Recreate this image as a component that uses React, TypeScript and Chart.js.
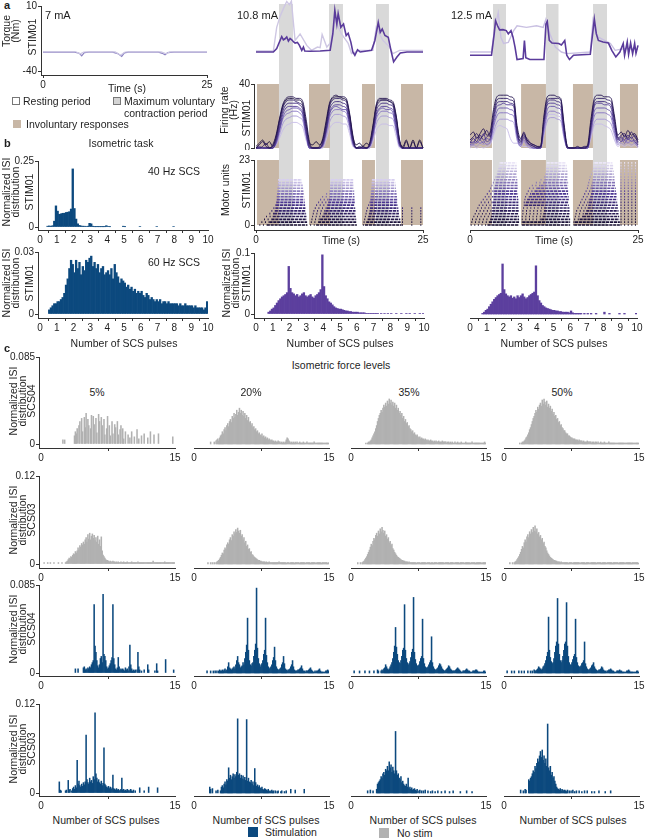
import React, { useEffect, useRef } from 'react';
import { Chart, registerables } from 'chart.js';

Chart.register(...registerables);
const FONT = "'Liberation Sans', Arial, Helvetica, sans-serif";
Chart.defaults.font.family = FONT;
Chart.defaults.font.size = 10;
Chart.defaults.color = '#1e1e1e';

const AX = '#333333';
const BLUE = '#0c497e';
const GREY = '#b1b1b1';
const PURPLE = '#5c3f9e';
const BROWN = '#c8b7a6';
const MVC = '#d9d9d9';

// ---------------- Panel a data ----------------
const TIME_TICKS = [0, 25];
const TORQUE_TICKS = [-40, 10];
const FR_TICKS = [0, 40];
const MU_TICKS = [0, 23];

const TORQUE_7_DARK = [[0,-25.5],[4.8,-25.5],[5.5,-26.3],[5.9,-28.3],[6.3,-25.9],[7,-25.5],[10.6,-25.5],[11.4,-26.6],[12,-28.8],[12.4,-26],[13,-25.5],[17.6,-25.5],[18.2,-26.4],[18.6,-27.6],[19,-25.8],[20,-25.5],[25,-25.5]];
const TORQUE_7_LIGHT = [[0,-25.2],[5,-25.2],[5.7,-26.8],[6.2,-25.4],[11,-25.3],[11.8,-27.8],[12.5,-25.4],[18,-25.3],[18.8,-26.8],[19.3,-25.3],[25,-25.3]];

const TORQUE_108_DARK = [[0,-25.4],[2.6,-25.4],[3.1,-22.8],[3.6,-16.5],[3.85,-13.5],[4.1,-16],[4.35,-15.2],[4.6,-13.8],[4.85,-17],[5.1,-15],[5.35,-16],[5.6,-17.5],[5.85,-18.5],[6.2,-18],[6.5,-20.3],[6.85,-24.1],[7.1,-21.6],[7.3,-24.6],[8,-24.8],[9.6,-24.6],[11.1,-24.1],[11.5,-11.5],[11.8,6.7],[12.1,-3.9],[12.3,4.2],[12.7,-6.4],[13.1,-3.9],[13.5,-12.7],[13.8,-11],[14.2,-17.8],[14.5,-25.4],[14.8,-27.9],[15.2,-23.6],[15.6,-25.4],[17.3,-24.1],[17.8,-16.5],[18.3,-2.6],[18.6,-10.2],[18.9,-7.7],[19.3,-12.7],[19.8,-14],[20.2,-24.1],[20.6,-33],[21.1,-29.2],[21.6,-26.1],[22.6,-25.4],[25,-25.4]];
const TORQUE_108_LIGHT = [[0,-24.6],[2.6,-24.6],[3.1,-6.4],[3.6,2],[4.1,8],[4.6,13.5],[5.0,11],[5.3,13.8],[5.85,-16.5],[6.6,-11.5],[7.6,-20.3],[8.3,-24.1],[9.2,-21.6],[9.6,-22],[9.9,-12],[10.6,-21.6],[11.2,-18],[11.8,-0.5],[12.8,-11.5],[13.8,-18.8],[14.3,-26.6],[15.5,-24.1],[17.5,-24.1],[18.0,-6.4],[19.0,-16.5],[20.0,-21.6],[20.5,-26.6],[21.5,-24.1],[25,-24.1]];

const TORQUE_125_DARK = [[0,-27.9],[3.2,-27.9],[3.6,-11.5],[3.8,-1.4],[4.1,-5.2],[4.4,-8.4],[4.9,-8.2],[5.4,-8.9],[5.7,-11.5],[6.1,-8.9],[6.4,-14],[6.7,-21.6],[7.0,-31.2],[7.9,-30.5],[8.1,-16.5],[8.3,-29.7],[8.9,-31.2],[11.0,-31.2],[11.3,-3.9],[11.5,-1.9],[11.8,-16.5],[12.2,-18.5],[13.2,-18.8],[13.6,-20],[14.1,-16.5],[14.4,-27.9],[14.8,-31.2],[15.4,-27.9],[17.9,-27.2],[18.3,-8.9],[18.5,-0.1],[18.8,-11.5],[19.1,-16.5],[19.8,-17.7],[20.6,-18.5],[21.1,-24.1],[21.7,-29.2],[22.3,-25.4],[22.8,-18.8],[23.0,-27.9],[23.4,-17.7],[23.6,-27.2],[23.9,-18.5],[24.2,-26.8],[24.5,-18.8],[24.7,-26.4],[25.0,-20.3]];
const TORQUE_125_LIGHT = [[0,-25.4],[3.2,-25.4],[3.7,-6.4],[4.2,4.9],[4.6,-14],[5.0,-18.8],[5.7,-18],[6.5,-8.9],[7.0,-5.2],[8.4,-6.4],[9.9,-5.2],[10.9,-6.4],[11.3,-0.1],[11.9,-11.5],[12.7,-21.6],[13.6,-25.4],[14.4,-26.6],[17.9,-25.4],[18.3,-1.4],[18.6,-8.9],[19.1,-14],[20.9,-18.8],[21.6,-24.1],[22.3,-23.4],[23.3,-22.6],[25,-23.4]];

const MID_MVC = [[3.44,5.54],[10.93,13.02],[17.96,19.9]];
const MID_INVOL = [[0.15,3.44],[7.93,11.08],[15.87,17.81],[21.7,25]];
const RIGHT_MVC = [[3.42,5.36],[11.3,13.2],[18.3,20.4]];
const RIGHT_INVOL = [[0,3.27],[7.6,11.3],[15.3,18.3],[22.3,25]];

const T_FR = [0,0.5,1,1.5,2,2.5,3,3.5,4,4.5,5,5.5,6,6.5,7,7.5,8,8.5,9,9.5,10,10.5,11,11.5,12,12.5,13,13.5,14,14.5,15,15.5,16,16.5,17,17.5,18,18.5,19,19.5,20,20.5,21,21.5,22,22.5,23,23.5,24,24.5,25];
const FR_MID = [
  [0,2,4,1,0,2,8,18,27,31,32,32,31,31,29,18,4,0,0,1,6,17,28,32,33,32,32,31,22,8,0,0,1,0,3,14,27,31,31,31,30,29,20,5,0,4,0,4,0,4,0],
  [0,0,1,3,0,1,6,16,25,29,30,30,29,28,26,14,2,0,0,0,4,14,26,30,31,31,30,29,20,6,0,1,0,0,2,12,25,29,30,30,29,27,18,4,0,0,0,0,0,0,0],
  [0,0,0,0,0,0,5,14,23,27,28,28,28,27,24,12,1,0,0,0,3,12,24,28,29,29,28,27,18,5,0,0,0,0,2,10,23,27,28,28,27,26,16,3,0,0,0,0,0,0,0],
  [0,1,0,0,0,0,4,12,21,25,26,26,26,25,22,10,0,0,0,0,2,11,22,26,27,27,26,25,16,4,0,0,0,0,1,9,21,25,26,26,25,24,14,2,0,0,0,0,0,0,0],
  [0,0,0,0,0,0,3,11,19,23,24,25,25,24,21,9,0,0,0,0,2,10,21,25,26,25,24,24,15,3,0,0,0,0,1,8,20,24,25,24,24,22,12,2,0,0,0,0,0,0,0],
  [0,0,0,0,0,0,3,10,18,21,22,23,23,22,19,8,0,0,0,0,1,9,19,23,24,24,23,22,14,3,0,0,0,0,1,7,18,22,23,23,22,21,11,1,0,0,0,0,0,0,0],
  [0,0,0,0,0,0,2,8,15,18,19,20,20,19,17,7,0,0,0,0,1,7,16,20,21,21,20,19,12,2,0,0,0,0,0,6,15,19,20,20,19,18,10,1,0,0,0,0,0,0,0],
  [0,0,0,0,0,0,2,6,11,14,15,16,16,15,13,5,0,0,0,0,0,5,12,15,16,16,15,15,9,1,0,0,0,0,0,4,11,14,15,15,14,14,7,0,0,0,0,0,0,0,0],
  [1,3,5,2,4,1,7,17,26,30,31,31,30,30,27,15,3,2,4,2,5,15,27,31,32,32,31,30,21,7,2,3,1,3,2,13,26,30,30,30,29,28,19,4,1,5,0,5,0,5,0],
];
const FR_RIGHT = [
  [8,10,6,9,12,8,10,24,32,33,33,33,32,31,14,6,9,5,3,2,1,1,20,32,33,33,32,31,15,1,0,0,1,0,0,2,18,31,33,33,32,32,31,20,8,10,7,11,8,9,5],
  [5,7,9,6,8,11,7,21,30,31,31,31,30,29,12,4,10,4,2,1,0,1,18,30,31,31,31,30,13,0,0,0,0,0,1,1,16,29,31,31,31,30,29,18,6,8,9,6,10,7,4],
  [3,6,4,8,5,7,9,19,28,29,29,29,28,27,10,3,7,6,3,2,1,0,16,28,30,30,29,28,12,1,0,0,0,0,0,1,14,27,29,29,29,28,27,16,5,7,5,8,6,8,3],
  [4,3,7,5,9,4,6,17,26,27,28,27,27,26,9,5,8,3,2,1,0,0,15,27,28,28,27,26,10,0,0,0,0,0,0,0,13,26,28,28,27,27,25,14,7,4,8,5,7,4,2],
  [2,4,3,5,3,6,5,15,23,25,25,25,24,23,8,2,6,4,1,0,0,0,13,24,26,26,25,24,9,0,0,0,0,0,0,0,11,23,25,25,25,24,22,12,4,6,3,6,4,5,2],
  [2,2,4,3,4,2,4,13,20,22,22,22,21,20,7,1,5,2,1,0,0,0,11,21,23,23,22,21,8,0,0,0,0,0,0,0,10,20,22,22,22,21,19,10,3,4,5,3,5,3,1],
  [1,2,1,3,2,3,3,10,16,18,18,18,17,16,5,1,4,1,0,0,0,0,9,17,19,19,18,17,6,0,0,0,0,0,0,0,8,16,18,18,18,17,15,8,2,3,2,4,2,3,1],
  [0,1,0,1,0,1,2,8,13,14,13,12,6,3,3,2,1,1,0,0,0,0,8,20,21,21,20,19,7,0,0,0,0,0,0,0,6,14,15,15,14,13,11,5,1,2,1,2,1,2,0],
];
const FR_COLORS = ['#23134f','#2f1d66','#3f2a7e','#523c96','#6752ad','#8472c2','#a596d6','#c6bbe8','#180d3a'];

// motor unit rows: [sparse start, dense start, end] x 3 contractions
const MID_RASTER = [
  [0.5,1.6,7.7, 8.1,9.0,15.1, 16.0,16.3,21.8],
  [0.8,2.0,7.65, 8.2,9.3,15.0, 16.1,16.5,21.7],
  [1.2,2.3,7.6, 8.3,9.6,15.0, 16.2,16.7,21.6],
  [1.5,2.5,7.55, 8.4,9.9,14.95, 16.3,16.8,21.5],
  [2.0,2.7,7.5, 8.5,10.2,14.9, 16.4,16.9,21.4],
  [2.3,2.8,7.45, 8.6,10.4,14.9, 16.5,17.0,21.35],
  [2.6,2.9,7.4, 8.8,10.6,14.85, 16.6,17.05,21.3],
  [2.9,3.0,7.35, 9.0,10.7,14.8, 16.8,17.1,21.25],
  [3.0,3.05,7.3, 9.3,10.8,14.8, 17.0,17.1,21.2],
  [3.1,3.1,7.25, 9.6,10.9,14.75, 17.1,17.15,21.15],
  [3.1,3.1,7.2, 9.9,11.0,14.75, 17.15,17.2,21.1],
  [3.15,3.15,7.15, 10.5,11.0,14.7, 17.2,17.2,21.05],
  [3.2,3.2,7.1, 11.0,11.05,14.7, 17.2,17.25,21.0],
  [3.2,3.2,7.05, 11.1,11.1,14.65, 17.25,17.25,20.95],
  [3.25,3.25,7.0, 11.1,11.1,14.65, 17.3,17.3,20.9],
  [3.3,3.3,6.9, 11.15,11.15,14.6, 17.3,17.3,20.85],
  [3.3,3.3,6.85, 11.2,11.2,14.55, 17.35,17.35,20.8],
];
const MID_TAIL = [[21.85,22.05],[23.25,23.45],[24.6,24.8]];
const MID_TAIL_UNITS = 7;
const RIGHT_RASTER = [
  [0.1,2.6,7.3, 7.7,7.7,14.9, 15.4,15.5,22.3],
  [0.2,2.8,7.3, 7.7,7.8,14.9, 15.4,15.6,22.3],
  [0.3,3.0,7.3, 7.7,10.6,14.9, 15.5,16.3,22.2],
  [0.5,3.1,7.3, 7.7,10.8,14.8, 15.6,16.8,22.2],
  [0.7,3.2,7.25, 7.8,10.9,14.8, 15.7,17.1,22.1],
  [0.9,3.3,7.25, 7.8,11.0,14.8, 15.8,17.3,22.1],
  [1.1,3.3,7.2, 7.9,11.0,14.8, 16.0,17.5,22.0],
  [1.3,3.4,7.2, 8.0,8.2,14.7, 16.2,17.6,22.0],
  [1.6,3.4,7.2, 8.0,8.3,14.7, 16.4,17.7,21.9],
  [1.9,3.5,7.2, 8.1,8.5,14.7, 16.6,17.8,21.9],
  [2.2,3.5,7.15, 8.2,8.8,14.7, 16.8,17.9,21.8],
  [2.5,3.6,7.15, 8.4,9.2,14.6, 17.0,18.0,21.8],
  [2.8,3.6,7.1, 8.6,9.6,14.6, 17.2,18.1,21.7],
  [3.0,3.7,7.1, 8.8,10.0,14.6, 17.4,18.1,21.7],
  [3.2,3.7,7.1, 9.2,10.5,14.6, 17.5,18.2,21.6],
  [3.4,3.8,7.05, 9.8,11.0,14.6, 17.6,18.2,21.6],
  [3.6,3.9,7.05, 10.5,11.1,14.5, 17.7,18.3,21.5],
  [3.8,4.0,7.0, 11.0,11.2,14.5, 17.8,18.3,21.5],
  [4.0,4.1,7.0, 11.2,11.2,14.5, 18.0,18.4,21.4],
  [4.1,4.2,7.0, 11.3,11.3,14.5, 18.2,18.4,21.4],
  [4.2,4.3,6.95, 11.3,11.3,14.4, 18.3,18.5,21.3],
  [4.3,4.4,6.95, 11.4,11.4,14.4, 18.4,18.5,21.3],
  [4.4,4.5,6.9, 11.4,11.4,14.3, 18.4,18.6,21.2],
];
const RIGHT_TAIL = [[22.4,25]];

// ---------------- Panel b data (bins of 0.1 pulse, values x 0.001) ----------------
const B_X_TICKS = [0,1,2,3,4,5,6,7,8,9,10];
const B_40HZ = [
  0,0,0,0,3,4,3,5,22,80,
  60,48,50,52,52,55,56,58,68,220,
  70,30,12,6,4,3,3,2,3,14,
  12,3,1,1,1,1,1,1,1,5,
  2,1,0,0,0,0,0,0,0,3,
  1,0,0,0,0,0,0,0,0,2,
  0,0,0,0,0,0,0,0,0,2,
  0,0,0,0,0,0,0,0,0,2,
  0,0,0,0,0,0,0,0,0,0,
  0,0,0,0,0,0,0,0,0,0,
];
const B_60HZ = [
  0,0,0,0,0,2,3,4,5,5,
  6,6,7,8,10,14,17,22,26,24,
  20,26,22,25,19,23,21,26,25,27,
  28,23,25,22,24,20,22,23,19,20,
  21,19,22,17,24,20,18,15,17,16,
  15,13,14,12,13,11,12,10,11,10,
  11,9,8,10,9,7,8,7,6,7,
  6,7,5,6,6,5,6,5,5,5,
  5,5,4,5,4,4,5,4,4,4,
  4,3,4,3,3,3,3,2,3,6,
];
const B_108MA = [
  0,0,0,0,0,0,0,3,5,8,
  10,14,18,22,25,28,30,32,35,78,
  42,35,33,30,32,28,30,33,35,30,
  28,30,32,28,26,30,32,35,40,97,
  45,30,25,20,18,15,12,10,9,8,
  8,7,6,5,5,4,4,3,3,3,
  3,2,2,2,2,1,1,1,1,1,
  1,1,1,0,1,0,1,0,1,0,
  1,0,0,1,0,0,1,0,0,1,
  0,1,0,0,1,0,0,1,0,1,
];
const B_125MA = [
  0,0,0,0,0,0,0,1,3,6,
  8,12,16,20,24,27,30,32,34,82,
  40,33,30,28,30,26,28,25,30,27,
  30,33,28,25,27,30,32,34,36,79,
  30,22,18,14,12,10,9,8,7,6,
  6,5,5,4,4,3,3,3,3,2,
  5,2,1,1,1,1,1,0,1,0,
  1,0,1,0,0,1,0,0,0,0,
  3,0,0,1,0,0,0,0,0,1,
  0,0,1,0,0,0,0,0,0,1,
];

// ---------------- Panel c data (bins of 0.1 pulse, values x 0.001) ----------------
const C_X_TICKS = [0, 15];
const FORCE_LEVELS = ['5%', '20%', '35%', '50%'];
const C_NOSTIM_SCS04 = [
  [0,0,0,0,0,0,0,0,0,0, 0,0,0,0,0,0,0,0,0,0, 0,0,0,0,4,0,4,0,0,0, 0,0,0,0,0,0,0,8,12,10,
   15,0,18,22,0,25,12,0,26,16, 30,0,24,18,0,15,28,0,27,19, 0,25,11,0,29,22,0,26,18,0, 24,9,0,15,27,0,18,8,0,22,
   10,0,19,16,0,22,9,0,14,18, 0,15,5,0,12,0,0,9,0,6, 0,12,0,0,7,0,0,14,0,5, 0,0,8,0,0,10,0,0,0,6,
   0,0,12,0,0,0,9,0,0,0, 0,10,0,0,0,0,0,0,0,0, 0,0,0,0,0,0,0,7,0,0],
  [0,0,0,0,0,0,0,0,0,0, 0,0,0,0,0,0,0,0,2,0, 0,0,2,0,3,4,5,3,6,8, 9,12,10,14,16,13,18,20,17,22,
   24,21,27,25,30,26,29,33,28,31, 35,30,33,28,32,27,30,25,28,23, 26,21,22,18,20,16,17,14,15,12, 13,10,11,9,8,10,7,8,6,7,
   5,6,4,5,4,3,4,3,3,2, 3,2,2,3,2,2,1,2,1,2, 1,2,4,6,5,3,2,1,2,1, 2,1,2,1,2,1,1,2,1,1,
   1,2,1,1,1,2,1,1,1,1, 1,1,1,2,1,1,1,1,1,1, 1,1,1,1,1,1,1,1,1,1],
  [0,0,0,0,0,0,0,0,0,0, 0,0,0,0,0,0,1,0,1,2, 2,3,4,6,8,10,12,15,18,22, 25,28,30,33,31,35,38,36,40,37,
   42,39,44,40,43,38,41,37,40,35, 38,33,35,30,32,28,30,25,27,22, 24,20,21,17,18,15,14,12,13,10, 11,9,8,9,7,6,7,5,6,5,
   5,4,5,4,3,4,3,3,4,3, 3,2,3,2,3,2,2,3,2,2, 2,3,2,2,2,2,1,2,2,1, 2,1,2,1,1,2,1,1,2,1,
   1,1,2,1,1,1,1,2,1,1, 1,1,1,1,2,1,1,1,1,1, 1,1,1,1,1,1,1,1,2,1],
  [0,0,0,0,0,0,0,0,0,0, 0,0,0,0,0,0,0,1,0,1, 2,2,3,4,6,7,9,11,14,16, 19,22,25,27,30,33,31,36,34,38,
   40,37,43,39,44,41,38,42,36,39, 35,37,32,34,29,31,27,28,24,25, 21,22,18,19,16,15,13,13,11,10, 10,8,8,7,6,6,5,5,5,4,
   4,4,3,4,3,3,3,2,3,2, 2,2,3,2,2,2,2,1,2,2, 1,2,2,1,2,1,1,2,1,1, 1,2,1,1,1,1,2,1,1,1,
   1,1,1,1,1,1,1,1,1,1, 1,1,1,1,1,1,1,1,1,1, 1,1,1,1,1,1,1,1,1,1],
];
const C_NOSTIM_SCS03 = [
  [0,0,0,2,0,0,0,2,0,0, 2,0,0,0,2,0,0,0,0,2, 0,0,0,2,0,0,0,2,3,4, 6,8,7,10,9,12,14,13,17,15,
   18,22,19,25,23,28,26,30,27,33, 36,30,40,34,42,33,38,41,35,39, 32,36,30,38,27,33,24,37,18,12, 10,8,6,5,5,4,3,4,3,3,
   4,3,3,2,3,2,3,2,2,3, 2,2,3,2,2,2,3,2,2,2, 2,3,2,2,2,2,2,2,3,2, 2,2,2,2,2,2,2,2,2,2,
   2,2,2,2,2,4,2,2,2,2, 2,2,2,2,2,2,2,2,3,2, 2,2,2,2,2,2,2,2,2,2],
  [0,0,0,0,0,0,0,0,0,0, 0,0,0,0,0,2,0,0,2,0, 2,0,2,0,2,3,4,5,7,9, 12,15,14,19,22,20,26,29,27,33,
   36,32,40,38,44,41,47,43,49,45, 42,46,38,40,33,36,29,31,24,26, 20,21,16,17,13,12,10,9,8,7, 6,5,5,4,4,3,3,3,3,2,
   3,2,2,3,2,2,2,2,2,2, 2,2,2,2,3,2,2,2,2,2, 2,2,1,2,2,2,1,2,2,2, 2,1,2,2,2,2,2,1,2,2,
   2,2,2,1,2,2,2,2,2,1, 2,2,2,2,2,1,2,2,2,2, 2,1,2,2,2,2,2,2,1,2],
  [0,0,0,0,0,0,0,2,0,0, 2,0,2,3,4,6,8,10,13,16, 19,23,27,25,31,35,33,39,42,38, 45,41,48,44,50,46,42,45,38,40,
   34,36,29,31,25,27,21,19,16,14, 12,10,9,8,7,6,5,5,4,4, 3,3,3,2,3,2,2,2,2,2, 2,2,1,2,2,2,2,1,2,2,
   2,2,2,1,2,2,2,2,1,2, 2,1,2,2,2,2,1,2,2,2, 2,2,2,1,2,2,2,2,2,1, 2,2,2,2,1,2,2,2,2,2,
   1,2,2,2,2,2,1,2,2,2, 2,2,1,2,2,2,2,2,1,2, 2,2,2,2,2,1,2,2,2,2],
  [0,0,0,0,0,0,2,0,0,2, 0,2,3,4,6,8,10,13,16,20, 24,22,29,33,30,37,40,36,44,41, 47,43,50,45,52,44,48,41,43,37,
   39,33,35,28,30,24,22,18,15,13, 11,9,8,7,6,5,5,4,4,3, 3,3,2,3,2,2,2,2,2,2, 2,1,2,2,2,2,1,2,2,2,
   2,2,2,2,1,2,2,2,2,2, 1,2,2,2,2,1,2,2,2,2, 2,2,1,2,2,2,2,2,1,2, 2,2,2,1,2,2,2,2,2,2,
   1,2,2,2,2,2,2,1,2,2, 2,2,2,2,1,2,2,2,2,2, 2,1,2,2,2,2,2,2,2,1],
];
const C_STIM_SCS04 = [
  [0,0,0,0,0,0,0,0,0,0, 0,0,0,0,0,0,0,0,0,0, 0,0,0,0,0,0,0,0,0,0, 0,0,0,0,0,0,0,0,4,0,
   0,4,0,0,0,0,0,5,6,3, 4,3,5,4,6,5,8,10,12,66, 26,20,12,7,5,8,14,16,10,76, 18,16,12,6,4,5,7,9,12,15,
   66,14,8,4,3,5,15,6,3,4, 3,4,3,2,5,3,4,2,6,27, 8,4,2,3,2,3,0,3,20,6, 3,0,2,0,0,3,0,0,0,8,
   3,0,0,0,0,0,0,2,0,9, 2,0,0,0,0,0,0,0,0,13, 0,0,0,0,0,0,0,0,3,0],
  [0,0,0,0,0,0,0,0,0,0, 0,0,0,0,2,0,0,0,2,0, 0,2,0,2,0,2,0,2,3,2, 2,3,2,3,4,2,3,6,10,5,
   4,3,4,5,6,4,8,12,16,10, 8,5,6,7,10,8,14,20,27,53, 22,12,8,7,9,10,16,22,28,82, 24,14,9,6,8,9,12,18,22,53,
   17,10,6,4,5,6,8,12,15,25, 12,6,4,3,3,4,5,8,10,16, 9,4,3,2,3,3,4,6,8,12, 6,3,2,2,2,3,3,4,5,7,
   4,2,2,1,2,2,2,3,4,5, 3,2,1,1,2,1,2,2,3,4, 2,1,1,1,1,1,2,2,3,2],
  [0,0,0,2,0,0,0,0,0,2, 0,0,0,0,0,2,0,0,0,0, 2,0,0,0,0,2,0,0,0,3, 2,0,0,2,3,2,4,5,8,6,
   4,3,4,6,8,10,14,20,26,44, 25,18,12,10,9,12,16,22,24,66, 22,14,10,8,9,11,15,20,23,73, 20,13,9,7,7,8,11,14,16,52,
   14,9,6,5,5,6,8,10,12,35, 10,6,4,3,3,4,5,7,9,8, 6,4,3,2,2,3,4,5,7,6, 4,3,2,2,2,2,3,4,5,4,
   3,2,1,1,2,2,2,3,4,3, 2,2,1,1,1,2,2,2,3,3, 2,1,1,1,1,1,1,2,2,1],
  [0,0,0,2,0,0,0,0,2,0, 0,2,0,0,0,0,2,0,0,2, 0,0,2,0,0,0,2,0,0,2, 0,2,0,3,2,2,3,4,6,5,
   4,3,4,6,7,9,12,16,20,54, 22,15,11,9,10,14,20,26,30,72, 28,18,12,10,12,16,22,28,30,68, 26,16,10,8,8,10,13,16,18,52,
   15,10,7,6,6,7,9,10,12,30, 9,6,4,3,3,4,5,7,8,10, 6,4,3,2,2,3,3,4,6,5, 3,2,2,1,2,2,3,3,4,3,
   2,2,1,1,1,2,2,2,3,2, 2,1,1,1,1,1,2,2,3,2, 1,1,1,1,1,1,1,2,2,1],
];
const C_STIM_SCS03 = [
  [0,0,0,0,0,0,0,0,0,0, 0,0,0,0,0,0,0,0,0,0, 15,4,3,0,0,0,0,3,4,0, 17,4,5,0,3,6,8,5,10,7,
   44,12,16,10,8,12,9,14,11,15, 78,18,14,12,20,15,17,13,22,18, 108,26,20,15,18,14,12,16,10,13, 61,12,10,8,7,9,6,8,5,7,
   24,6,5,4,6,4,5,3,4,5, 20,4,5,3,4,3,5,3,4,2, 5,3,2,4,0,3,0,0,0,0, 7,0,0,0,0,3,0,0,0,0,
   8,0,0,0,0,0,0,0,0,0, 7,0,0,0,0,0,0,0,0,0, 0,0,0,0,0,0,0,0,0,0],
  [0,0,0,0,0,0,0,0,0,0, 0,0,0,0,0,0,0,8,5,0, 6,0,0,0,3,0,4,0,0,3, 8,10,7,12,15,11,18,16,34,20,
   24,18,22,26,20,25,22,28,100,24, 26,20,24,19,23,18,21,17,99,16, 20,15,14,17,12,15,10,33,14,9, 11,8,10,7,6,8,5,4,6,5,
   4,3,5,3,2,3,4,2,3,0, 3,0,2,3,0,0,2,3,0,0, 2,0,3,0,0,0,0,5,0,0, 0,0,4,0,0,0,0,0,0,0,
   0,0,5,0,0,0,0,0,0,0, 0,0,0,0,0,0,0,0,0,0, 0,0,0,0,0,0,0,0,0,0],
  [0,0,0,0,0,0,0,0,0,0, 0,0,0,0,0,0,0,0,3,0, 0,4,0,0,3,0,0,0,5,12, 14,16,18,22,20,26,28,24,32,30,
   36,30,42,34,38,28,35,30,26,83, 30,24,26,20,18,22,14,16,12,10, 9,12,8,20,6,8,5,7,4,5, 6,4,3,5,0,3,4,0,3,0,
   3,0,4,0,0,3,0,0,2,0, 3,0,0,2,0,0,3,0,0,0, 2,0,0,0,3,0,0,0,0,2, 0,0,0,3,0,0,0,0,0,0,
   0,2,0,0,0,0,0,0,3,0, 0,0,0,0,2,0,0,0,0,0, 0,0,0,0,0,0,0,0,0,0],
  [0,0,0,0,0,0,0,0,0,0, 0,0,0,0,0,0,0,0,4,0, 0,3,0,5,4,0,0,18,16,20, 22,26,30,28,36,33,40,46,42,50,
   56,48,58,44,50,40,46,36,93,34, 30,36,24,28,20,22,16,12,8,6, 5,4,6,3,5,4,3,4,3,2, 4,0,3,0,3,0,4,0,2,0,
   3,0,0,3,0,0,2,0,0,3, 0,0,3,0,0,0,0,2,0,0, 2,0,0,0,0,3,0,0,0,0, 0,0,2,0,0,0,0,0,3,0,
   0,0,0,0,0,0,0,0,0,0, 0,0,0,0,0,0,0,0,0,0, 0,0,0,0,0,0,0,0,0,0],
];

// ---------------- helpers ----------------
type Ax = { ticks: number[]; fmt?: (v: number) => string; labels?: boolean };
type BoxProps = {
  x0: number; x1: number; y0: number; y1: number;
  xr: number[]; yr: number[];
  xAxis?: Ax; yAxis?: Ax;
  type?: string;
  datasets: any[];
  padL?: number; padR?: number; padT?: number; padB?: number;
};

function ChartBox(p: BoxProps) {
  const ref = useRef<HTMLCanvasElement>(null);
  const padL = p.padL ?? (p.yAxis ? 34 : 0);
  const padR = p.padR ?? 10;
  const padT = p.padT ?? 8;
  const padB = p.padB ?? (p.xAxis ? 18 : 0);
  const W = Math.round(p.x1 - p.x0 + padL + padR);
  const H = Math.round(p.y1 - p.y0 + padT + padB);
  useEffect(() => {
    const axis = (a: Ax | undefined, horiz: boolean, min: number, max: number, size: number) => ({
      type: 'linear', min, max, display: true, offset: false,
      border: { display: !!a, color: AX, width: 1 },
      grid: { display: !!a, drawOnChartArea: false, drawTicks: true, tickLength: 3, color: AX, lineWidth: 1 },
      ticks: {
        display: !!a && a.labels !== false, padding: 1, maxRotation: 0, minRotation: 0, autoSkip: false,
        font: { size: 10, family: FONT }, color: '#1e1e1e',
        callback: (v: number) => (a && a.fmt ? a.fmt(v) : String(v)),
      },
      afterBuildTicks: (s: any) => { s.ticks = (a ? a.ticks : []).map((v) => ({ value: v })); },
      afterFit: (s: any) => {
        if (horiz) s.height = size; else s.width = size;
        s.paddingLeft = 0; s.paddingRight = 0; s.paddingTop = 0; s.paddingBottom = 0;
      },
    });
    const chart = new Chart(ref.current as HTMLCanvasElement, {
      type: (p.type ?? 'line') as any,
      data: { datasets: p.datasets },
      options: {
        responsive: false, animation: false, events: [],
        layout: { padding: { left: 0, right: padR, top: padT, bottom: 0 } },
        plugins: { legend: { display: false }, tooltip: { enabled: false } },
        elements: { point: { radius: 0 } },
        scales: {
          x: axis(p.xAxis, true, p.xr[0], p.xr[1], padB) as any,
          y: axis(p.yAxis, false, p.yr[0], p.yr[1], padL) as any,
        },
      },
    } as any);
    return () => chart.destroy();
  }, []);
  return (
    <canvas ref={ref} width={W} height={H}
      style={{ position: 'absolute', left: p.x0 - padL, top: p.y0 - padT, width: W, height: H }} />
  );
}

const fmtNum = (v: number) => (v === 0 ? '0' : String(v));

function histDs(vals: number[], binW: number, color: string) {
  return {
    type: 'bar',
    data: vals.map((v, i) => ({ x: (i + 0.5) * binW, y: v ? v / 1000 : null })),
    backgroundColor: color, borderWidth: 0, barPercentage: 1, categoryPercentage: 1, grouped: false,
  };
}

// Histogram placed by pixel landmarks: px0 (x value 0), px1 (x max), top (y max), zero (y 0), axis (x-axis line)
function Hist(props: {
  vals: number[]; binW: number; color: string; xMax: number; yMax: number;
  px0: number; px1: number; top: number; zero: number; axis: number;
  yAxis: boolean; xTicks: number[];
}) {
  const { vals, binW, color, xMax, yMax, px0, px1, top, zero, axis, yAxis, xTicks } = props;
  const pxX = (px1 - px0) / xMax;
  const pxY = (zero - top) / yMax;
  const yMin = -(axis - zero) / pxY;
  const left = yAxis ? px0 - 2 : px0;
  const xMin = yAxis ? -2 / pxX : 0;
  return (
    <ChartBox type="bar" x0={left} x1={px1} y0={top} y1={axis} xr={[xMin, xMax]} yr={[yMin, yMax]}
      xAxis={{ ticks: xTicks }} yAxis={yAxis ? { ticks: [0, yMax], fmt: fmtNum } : undefined}
      padL={yAxis ? 36 : 8} padR={10} padT={8} padB={16}
      datasets={[histDs(vals, binW, color)]} />
  );
}

function blockDs(blocks: number[][], topVal: number, color: string) {
  return blocks.map(([a, b]) => ({
    type: 'line', data: [{ x: a, y: topVal }, { x: b, y: topVal }], fill: 'origin',
    backgroundColor: color, borderColor: color, borderWidth: 0, pointRadius: 0, order: 10,
  }));
}

function traceDs(pts: number[][], color: string, w: number) {
  return {
    type: 'line', data: pts.map(([t, v]) => ({ x: t, y: v })), borderColor: color, borderWidth: w,
    pointRadius: 0, fill: false, clip: false, order: 1,
  };
}

function frDs(traces: number[][]) {
  return traces.map((tr, k) => ({
    type: 'line', data: T_FR.map((t, i) => ({ x: t, y: tr[i] })), borderColor: FR_COLORS[k], borderWidth: 0.9,
    pointRadius: 0, fill: false, clip: false, cubicInterpolationMode: 'monotone', order: 1,
  }));
}

function hexToRgb(h: string) {
  return [parseInt(h.slice(1, 3), 16), parseInt(h.slice(3, 5), 16), parseInt(h.slice(5, 7), 16)];
}
function ramp(n: number, stops: string[]) {
  const cs = stops.map(hexToRgb);
  const out: string[] = [];
  for (let i = 0; i < n; i++) {
    const f = n === 1 ? 0 : i / (n - 1);
    const seg = Math.min(cs.length - 2, Math.floor(f * (cs.length - 1)));
    const lf = f * (cs.length - 1) - seg;
    const c = cs[seg].map((v, j) => Math.round(v + (cs[seg + 1][j] - v) * lf));
    out.push(`rgb(${c[0]},${c[1]},${c[2]})`);
  }
  return out;
}

function rasterDs(rows: number[][], colors: string[], lw: number, tail: number[][], tailUnits: number) {
  const out: any[] = [];
  rows.forEach((r, u) => {
    const dense: any[] = [];
    const sparse: any[] = [];
    for (let g = 0; g < 3; g++) {
      const s = r[g * 3], d = r[g * 3 + 1], e = r[g * 3 + 2];
      dense.push({ x: d, y: u }, { x: e, y: u }, { x: e, y: null });
      if (d > s) sparse.push({ x: s, y: u }, { x: d, y: u }, { x: d, y: null });
    }
    if (u < tailUnits) tail.forEach(([a, b]) => sparse.push({ x: a, y: u }, { x: b, y: u }, { x: b, y: null }));
    out.push({ type: 'line', data: dense, borderColor: colors[u], borderWidth: lw, borderDash: [3.2, 0.7], spanGaps: false, pointRadius: 0, fill: false, order: 1 });
    out.push({ type: 'line', data: sparse, borderColor: colors[u], borderWidth: lw, borderDash: [1, 2.6], spanGaps: false, pointRadius: 0, fill: false, order: 1 });
  });
  return out;
}

function T(p: { x: number; y: number; s?: number; rot?: boolean; b?: boolean; a?: string; children: any }) {
  const tr = p.rot ? 'translate(-50%,-50%) rotate(-90deg)' : p.a === 'l' ? 'translate(0,-50%)' : 'translate(-50%,-50%)';
  return (
    <div style={{ position: 'absolute', left: p.x, top: p.y, transform: tr, fontSize: p.s ?? 10.5,
      fontWeight: p.b ? 'bold' : 'normal', whiteSpace: 'nowrap', lineHeight: 1, fontFamily: FONT, color: '#1e1e1e' }}>
      {p.children}
    </div>
  );
}

function Sq(p: { x: number; y: number; w: number; h: number; c: string; border?: string }) {
  return <div style={{ position: 'absolute', left: p.x, top: p.y, width: p.w, height: p.h, background: p.c,
    boxSizing: 'border-box', border: p.border ? `1px solid ${p.border}` : 'none' }} />;
}

// ---------------- layout constants ----------------
const TQ = { y0: 6, yAxis: 75, top: 10, bot: -40, botPx: 71 };
const tqYMin = TQ.bot - (TQ.yAxis - TQ.botPx) * ((TQ.top - TQ.bot) / (TQ.botPx - TQ.y0));
const MIDX = { p0: 256, p1: 423 };
const RIGHTX = { p0: 470, p1: 638 };

const C_COLS = [[41, 175], [194, 329], [351, 486], [504, 639]];
const C_ROWS = [
  { top: 357, zero: 444, axis: 448, max: 0.085 },
  { top: 476, zero: 564, axis: 568, max: 0.12 },
  { top: 585, zero: 673, axis: 676, max: 0.085 },
  { top: 704, zero: 793, axis: 796, max: 0.12 },
];

export default function App() {
  const midColors = ramp(MID_RASTER.length, ['#140b2e', '#4b3592', '#d6ceef']);
  const rightColors = ramp(RIGHT_RASTER.length, ['#140b2e', '#4b3592', '#ebe6f7']);

  const midPxX = (MIDX.p1 - MIDX.p0) / 25;
  const leftPxX = (207 - 43) / 25;

  const rasterYMin = -(230 - 225) * (23 / (225 - 160));

  const cRowData = [C_NOSTIM_SCS04, C_NOSTIM_SCS03, C_STIM_SCS04, C_STIM_SCS03];
  const cRowColor = [GREY, GREY, BLUE, BLUE];
  const cRowName = ['SCS04', 'SCS03', 'SCS04', 'SCS03'];

  return (
    <div style={{ position: 'absolute', left: 0, top: 0, width: 645, height: 839, background: '#fff', overflow: 'hidden', fontFamily: FONT }}>
      {/* ===== Panel a: background MVC bands ===== */}
      <ChartBox x0={MIDX.p0} x1={MIDX.p1} y0={4} y1={226} xr={[0, 25]} yr={[0, 1]} padL={0} padR={0} padT={0} padB={0}
        datasets={blockDs(MID_MVC, 1, MVC)} />
      <ChartBox x0={RIGHTX.p0} x1={RIGHTX.p1} y0={4} y1={226} xr={[0, 25]} yr={[0, 1]} padL={0} padR={0} padT={0} padB={0}
        datasets={blockDs(RIGHT_MVC, 1, MVC)} />

      {/* torque 7 mA */}
      <ChartBox x0={41} x1={207} y0={TQ.y0} y1={TQ.yAxis} xr={[-2 / leftPxX, 25]} yr={[tqYMin, TQ.top]}
        xAxis={{ ticks: TIME_TICKS }} yAxis={{ ticks: TORQUE_TICKS }} padL={30} padB={16} padT={6}
        datasets={[traceDs(TORQUE_7_LIGHT, '#cdc7e3', 1.2), traceDs(TORQUE_7_DARK, '#8a80c2', 1.2)]} />
      {/* torque 10.8 mA */}
      <ChartBox x0={MIDX.p0} x1={MIDX.p1} y0={TQ.y0} y1={TQ.yAxis} xr={[0, 25]} yr={[tqYMin, TQ.top]} padT={6}
        datasets={[traceDs(TORQUE_108_DARK, '#5a3b9b', 1.6), traceDs(TORQUE_108_LIGHT, '#cec7e3', 1.4)]} />
      {/* torque 12.5 mA */}
      <ChartBox x0={RIGHTX.p0} x1={RIGHTX.p1} y0={TQ.y0} y1={TQ.yAxis} xr={[0, 25]} yr={[tqYMin, TQ.top]} padT={6}
        datasets={[traceDs(TORQUE_125_DARK, '#5a3b9b', 1.6), traceDs(TORQUE_125_LIGHT, '#c9c0e2', 1.4)]} />

      {/* firing rates */}
      <ChartBox x0={254} x1={MIDX.p1} y0={84} y1={148} xr={[-2 / midPxX, 25]} yr={[0, 40]}
        yAxis={{ ticks: FR_TICKS }} padL={30} padB={2}
        datasets={[...frDs(FR_MID), ...blockDs(MID_INVOL, 40, BROWN)]} />
      <ChartBox x0={RIGHTX.p0} x1={RIGHTX.p1} y0={84} y1={148} xr={[0, 25]} yr={[0, 40]} padB={2}
        datasets={[...frDs(FR_RIGHT), ...blockDs(RIGHT_INVOL, 40, BROWN)]} />

      {/* rasters */}
      <ChartBox x0={254} x1={MIDX.p1} y0={160} y1={230} xr={[-2 / midPxX, 25]} yr={[rasterYMin, 23]}
        xAxis={{ ticks: TIME_TICKS }} yAxis={{ ticks: MU_TICKS }} padL={30} padB={16}
        datasets={[...rasterDs(MID_RASTER, midColors, 1.7, MID_TAIL, MID_TAIL_UNITS), ...blockDs(MID_INVOL, 23, BROWN)]} />
      <ChartBox x0={RIGHTX.p0} x1={RIGHTX.p1} y0={160} y1={230} xr={[0, 25]} yr={[rasterYMin, 23]}
        xAxis={{ ticks: TIME_TICKS }} padL={8} padB={16}
        datasets={[...rasterDs(RIGHT_RASTER, rightColors, 1.6, RIGHT_TAIL, RIGHT_RASTER.length), ...blockDs(RIGHT_INVOL, 23, BROWN)]} />

      {/* panel a texts */}
      <T x={4} y={5} b s={11} a="l">a</T>
      <T x={45} y={15} s={11} a="l">7 mA</T>
      <T x={237} y={15} s={11} a="l">10.8 mA</T>
      <T x={451} y={15} s={11} a="l">12.5 mA</T>
      <T x={6} y={31} rot>Torque</T>
      <T x={15} y={31} rot>(Nm)</T>
      <T x={32} y={37} rot>STIM01</T>
      <T x={127} y={88}>Time (s)</T>
      <T x={341} y={240}>Time (s)</T>
      <T x={554} y={240}>Time (s)</T>
      <T x={224} y={110} rot>Firing rate</T>
      <T x={233} y={110} rot>(Hz)</T>
      <T x={246} y={118} rot>STIM01</T>
      <T x={225} y={190} rot>Motor units</T>
      <T x={246} y={190} rot>STIM01</T>
      <Sq x={12} y={97} w={8} h={8} c="#fff" border="#777" />
      <T x={23} y={101} a="l">Resting period</T>
      <Sq x={113} y={97} w={8} h={8} c="#d4d4d4" border="#777" />
      <T x={124} y={101} a="l">Maximum voluntary</T>
      <T x={124} y={113} a="l">contraction period</T>
      <Sq x={13} y={120} w={8} h={8} c={BROWN} />
      <T x={26} y={124} a="l">Involuntary responses</T>

      {/* ===== Panel b ===== */}
      <Hist vals={B_40HZ} binW={0.1} color={BLUE} xMax={10} yMax={0.25} px0={40} px1={208} top={161} zero={227} axis={230} yAxis xTicks={B_X_TICKS} />
      <Hist vals={B_60HZ} binW={0.1} color={BLUE} xMax={10} yMax={0.03} px0={40} px1={208} top={252} zero={314} axis={318} yAxis xTicks={B_X_TICKS} />
      <Hist vals={B_108MA} binW={0.1} color={PURPLE} xMax={10} yMax={0.1} px0={256} px1={424} top={253} zero={314} axis={318} yAxis xTicks={B_X_TICKS} />
      <Hist vals={B_125MA} binW={0.1} color={PURPLE} xMax={10} yMax={0.1} px0={470} px1={637} top={253} zero={314} axis={318} yAxis={false} xTicks={B_X_TICKS} />

      <T x={4} y={143} b s={11} a="l">b</T>
      <T x={121} y={143}>Isometric task</T>
      <T x={174} y={171}>40 Hz SCS</T>
      <T x={174} y={262}>60 Hz SCS</T>
      {[192, 283].map((cy) => (
        <React.Fragment key={cy}>
          <T x={6} y={cy} rot>Normalized ISI</T>
          <T x={15} y={cy} rot>distribution</T>
          <T x={29} y={cy} rot>STIM01</T>
        </React.Fragment>
      ))}
      <T x={226} y={283} rot>Normalized ISI</T>
      <T x={235} y={283} rot>distribution</T>
      <T x={246} y={283} rot>STIM01</T>
      <T x={124} y={343}>Number of SCS pulses</T>
      <T x={340} y={343}>Number of SCS pulses</T>
      <T x={554} y={343}>Number of SCS pulses</T>

      {/* ===== Panel c ===== */}
      <T x={4} y={348} b s={11} a="l">c</T>
      <T x={341} y={365}>Isometric force levels</T>
      {FORCE_LEVELS.map((f, i) => (
        <T key={f} x={[97, 251, 409, 562][i]} y={392}>{f}</T>
      ))}
      {C_ROWS.map((r, ri) => (
        <React.Fragment key={ri}>
          {C_COLS.map((c, ci) => (
            <Hist key={ci} vals={cRowData[ri][ci]} binW={0.1} color={cRowColor[ri]} xMax={15} yMax={r.max}
              px0={c[0]} px1={c[1]} top={r.top} zero={r.zero} axis={r.axis} yAxis={ci === 0} xTicks={C_X_TICKS} />
          ))}
          <T x={13} y={(r.top + r.zero) / 2} rot>Normalized ISI</T>
          <T x={22} y={(r.top + r.zero) / 2} rot>distribution</T>
          <T x={31} y={(r.top + r.zero) / 2} rot>{cRowName[ri]}</T>
        </React.Fragment>
      ))}
      {[106, 266, 423, 573].map((x) => (
        <T key={x} x={x} y={820}>Number of SCS pulses</T>
      ))}
      <Sq x={248} y={827} w={10} h={10} c={BLUE} />
      <T x={265} y={832} a="l">Stimulation</T>
      <Sq x={379} y={828} w={10} h={10} c={GREY} />
      <T x={397} y={833} a="l">No stim</T>
    </div>
  );
}
